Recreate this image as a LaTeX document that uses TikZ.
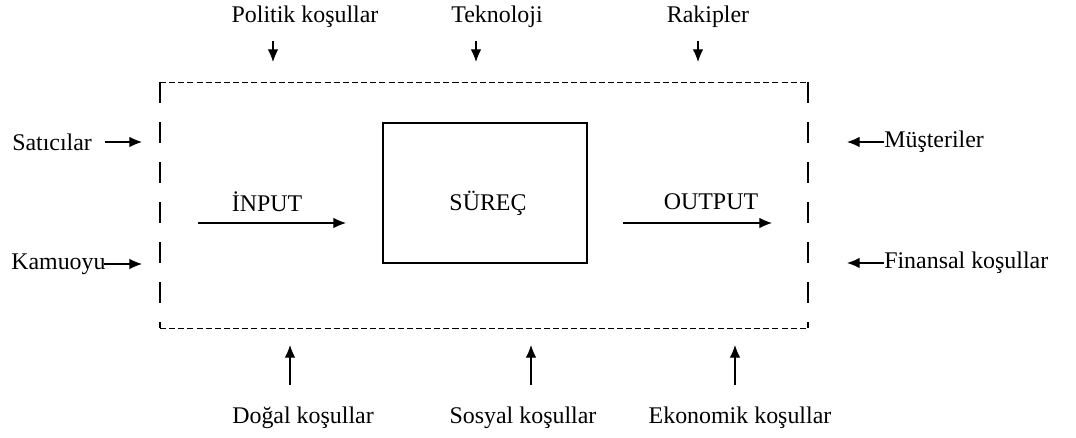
\documentclass[tikz,border=0pt]{standalone}
\usepackage{fontspec}
\setmainfont{Liberation Serif}
\usepackage{tikz}
\usetikzlibrary{arrows.meta,positioning}

\tikzset{
  label/.style={font=\fontsize{17}{20}\selectfont, inner sep=0pt},
  flow/.style={line width=0.8pt, -{Latex[length=9pt,width=7.5pt]}},
  sysline/.style={line width=0.7pt, dash pattern=on 4.3pt off 2.2pt},
  sysside/.style={line width=0.8pt, dash pattern=on 15pt off 13.5pt}
}

\begin{document}
\begin{tikzpicture}[x=0.025cm,y=-0.025cm]
  \useasboundingbox (0,0) rectangle (1076,438);

  % system boundary
  \coordinate (tl) at (160,82);
  \coordinate (tr) at (808,82);
  \coordinate (bl) at (160,328);
  \coordinate (br) at (808,328);
  \draw[sysline] (tl) -- (tr);
  \draw[sysline] (bl) -- (br);
  \draw[sysside] (tl) -- (bl);
  \draw[sysside] (tr) -- (br);

  % process
  \node[draw, line width=1.2pt, minimum width=204*0.025cm, minimum height=140*0.025cm,
        label] (surec) at (485,193) {};
  \node[label] (surectext) at (488,203) {SÜREÇ};

  % input and output
  \node[label] (input) at (267,202) {İNPUT};
  \node[label] (output) at (711,202) {OUTPUT};
  \coordinate (in1) at (198,223);
  \coordinate (in2) at (346,223);
  \coordinate (out1) at (623,223);
  \coordinate (out2) at (772,223);
  \draw[flow] (in1) -- (in2);
  \draw[flow] (out1) -- (out2);

  % top
  \node[label] (politik) at (305,17) {Politik koşullar};
  \node[label] (tekno) at (497,17) {Teknoloji};
  \node[label] (rakip) at (708,17) {Rakipler};
  \coordinate (p1) at (273,41);  \coordinate (p2) at (273,62);
  \coordinate (t1) at (476,41);  \coordinate (t2) at (476,62);
  \coordinate (r1) at (698,41);  \coordinate (r2) at (698,62);
  \draw[flow] (p1) -- (p2);
  \draw[flow] (t1) -- (t2);
  \draw[flow] (r1) -- (r2);

  % left
  \node[label, anchor=west] (satici) at (12,142) {Satıcılar};
  \node[label, anchor=west] (kamu) at (11,264) {Kamuoyu};
  \coordinate (s2) at (142,142);
  \coordinate (k2) at (142,264);
  \draw[flow] ([xshift=9pt]satici.east) -- (s2);
  \draw[flow] ([xshift=-1pt]kamu.east) -- (k2);

  % right
  \node[label, anchor=west] (musteri) at (884,142) {Müşteriler};
  \node[label, anchor=west] (finans) at (884,263) {Finansal koşullar};
  \coordinate (m2) at (847,142);
  \coordinate (f2) at (847,263);
  \draw[flow] (musteri.west) -- (m2);
  \draw[flow] (finans.west) -- (f2);

  % bottom
  \node[label] (dogal) at (303,418) {Doğal koşullar};
  \node[label] (sosyal) at (523,418) {Sosyal koşullar};
  \node[label] (ekonomik) at (740,418) {Ekonomik koşullar};
  \coordinate (d1) at (290,385);  \coordinate (d2) at (290,345);
  \coordinate (so1) at (531,385); \coordinate (so2) at (531,345);
  \coordinate (e1) at (735,385);  \coordinate (e2) at (735,345);
  \draw[flow] (d1) -- (d2);
  \draw[flow] (so1) -- (so2);
  \draw[flow] (e1) -- (e2);
\end{tikzpicture}
\end{document}
